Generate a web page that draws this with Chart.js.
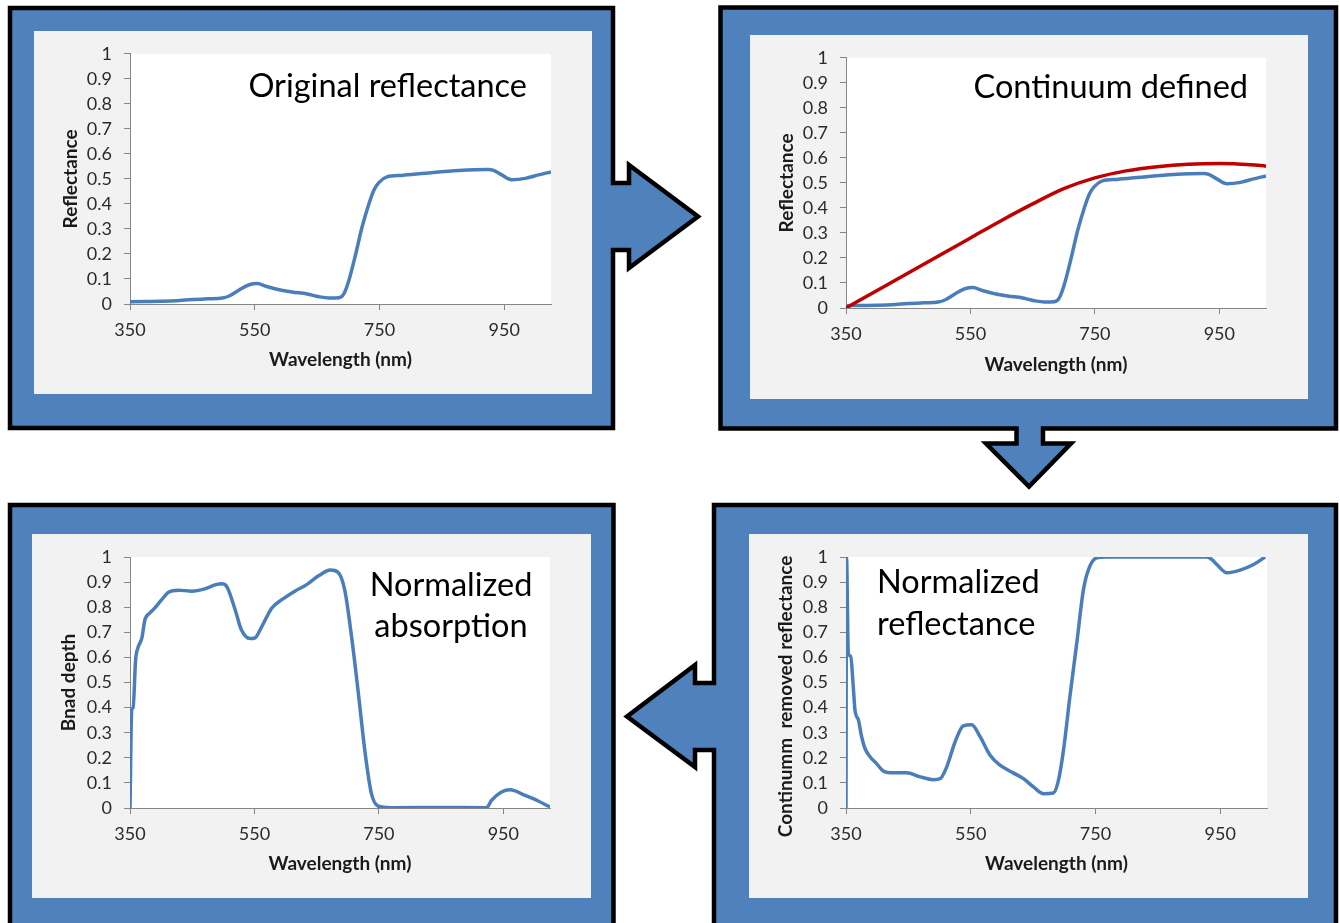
<!DOCTYPE html>
<html>
<head>
<meta charset="utf-8">
<title>Continuum removal steps</title>
<script src="https://cdn.jsdelivr.net/npm/chart.js@4.4.1/dist/chart.umd.min.js"></script>
<style>
  body { margin: 0; background: #fff; }
  #stage { position: relative; width: 1340px; height: 923px; overflow: hidden; }
  #stage canvas { position: absolute; }
</style>
</head>
<body>
<div id="stage">
  <canvas id="frames" width="1340" height="923" style="left:0;top:0"></canvas>
  <canvas id="origChart"></canvas>
  <canvas id="contChart"></canvas>
  <canvas id="depthChart"></canvas>
  <canvas id="normChart"></canvas>
</div>
<script>
// axis ticks
const xTicks = [350, 550, 750, 950];
const yTicks = [0, 0.1, 0.2, 0.3, 0.4, 0.5, 0.6, 0.7, 0.8, 0.9, 1];

// original reflectance
const origWl = [350, 375, 400, 424, 450, 475, 498, 509, 525, 541, 554, 568, 584, 610, 634, 653, 669, 685, 693, 701, 712, 722, 733, 741, 749, 762, 786, 824, 877, 925, 933, 946, 962, 984, 1005, 1025];
const origR = [0.009, 0.010, 0.011, 0.013, 0.018, 0.021, 0.024, 0.032, 0.056, 0.077, 0.082, 0.071, 0.060, 0.048, 0.040, 0.029, 0.024, 0.025, 0.041, 0.095, 0.201, 0.307, 0.400, 0.455, 0.485, 0.508, 0.514, 0.523, 0.534, 0.538, 0.534, 0.516, 0.497, 0.502, 0.516, 0.528];

// continuum hull (red line)
const contWl = [350, 400, 450, 500, 550, 600, 650, 700, 750, 800, 850, 900, 950, 1000, 1025];
const contR = [0, 0.07, 0.14, 0.21, 0.28, 0.35, 0.416, 0.477, 0.52, 0.548, 0.565, 0.575, 0.578, 0.573, 0.567];

// band depth
const depthWl = [350, 352.7, 355, 359, 363, 369, 374, 382, 390, 401, 412, 428, 449, 470, 488, 498, 506, 519, 529, 543, 551, 562, 578, 594, 615, 634, 653, 672, 684, 695, 706, 717, 728, 738, 749, 770, 850, 923, 931, 947, 961, 985, 1006, 1025];
const depthR = [0, 0.39, 0.40, 0.59, 0.64, 0.677, 0.75, 0.777, 0.797, 0.83, 0.86, 0.868, 0.864, 0.873, 0.89, 0.893, 0.88, 0.79, 0.71, 0.675, 0.678, 0.724, 0.797, 0.83, 0.864, 0.89, 0.925, 0.948, 0.94, 0.87, 0.684, 0.457, 0.217, 0.057, 0.007, 0.001, 0.002, 0.001, 0.03, 0.064, 0.073, 0.05, 0.028, 0.004];

// continuum removed reflectance
const normWl = [350, 350.8, 353.7, 357.5, 362, 364.4, 370, 375, 380.5, 388.5, 399, 410, 426, 447, 469, 490, 501, 511.5, 525, 538, 551.6, 565, 581, 597, 618, 634.5, 650.5, 666.6, 682.6, 690.6, 698.7, 709, 720, 730.7, 738.8, 752, 768, 850, 928.6, 936.6, 944.6, 960.7, 982, 1003.5, 1022];
const normR = [0, 1.0, 0.617, 0.604, 0.47, 0.39, 0.35, 0.284, 0.237, 0.204, 0.177, 0.147, 0.14, 0.14, 0.124, 0.113, 0.117, 0.164, 0.264, 0.327, 0.332, 0.284, 0.21, 0.171, 0.14, 0.117, 0.084, 0.057, 0.06, 0.11, 0.23, 0.444, 0.657, 0.87, 0.95, 0.997, 1.0, 1.0, 1.0, 0.99, 0.97, 0.937, 0.948, 0.97, 1.0];

const lineBlue = '#4a7ebb';
const lineRed = '#c00000';
const tickFont = { family: 'Lato', size: 18 };
const titleFont = { family: 'Lato', size: 19, weight: 'bold' };

// blue frames with the arrows joined on
function drawFrames() {
  const ctx = document.getElementById('frames').getContext('2d');
  const shapes = [
    [[10, 8], [613, 8], [613, 183], [629, 183], [629, 165], [698, 216.5], [629, 268], [629, 250], [613, 250], [613, 428], [10, 428]],
    [[720.5, 7.5], [1336, 7.5], [1336, 428.5], [1043, 428.5], [1043, 443.5], [1071, 443.5], [1029, 486.5], [986, 443.5], [1016.5, 443.5], [1016.5, 428.5], [720.5, 428.5]],
    [[10, 505], [613.5, 505], [613.5, 935], [10, 935]],
    [[714, 505], [1336, 505], [1336, 935], [714, 935], [714, 750], [695, 750], [695, 767], [627, 716.5], [695, 665], [695, 683], [714, 683]]
  ];
  ctx.fillStyle = '#4f81bd';
  ctx.strokeStyle = '#000';
  ctx.lineWidth = 4.5;
  ctx.lineJoin = 'miter';
  shapes.forEach(s => {
    ctx.beginPath();
    s.forEach(([x, y], i) => i ? ctx.lineTo(x, y) : ctx.moveTo(x, y));
    ctx.closePath();
    ctx.fill();
    ctx.stroke();
  });
}

function pts(wl, vals) {
  return wl.map((w, i) => ({ x: w, y: vals[i] }));
}

const panelBg = {
  id: 'panelBg',
  beforeDraw(chart) {
    const { ctx, chartArea: a, width, height } = chart;
    ctx.save();
    ctx.fillStyle = '#f2f2f2';
    ctx.fillRect(0, 0, width, height);
    ctx.fillStyle = '#fff';
    ctx.fillRect(a.left, a.top, a.right - a.left, a.bottom - a.top);
    ctx.restore();
  }
};

const note = {
  id: 'note',
  afterDraw(chart, args, opts) {
    const ctx = chart.ctx;
    ctx.save();
    ctx.font = opts.size + 'px Lato';
    ctx.fillStyle = '#000';
    ctx.textAlign = opts.align;
    ctx.textBaseline = 'alphabetic';
    opts.lines.forEach((t, i) => ctx.fillText(t, opts.x, opts.y + i * opts.gap));
    ctx.restore();
  }
};

function makeChart(id, box, datasets, yTitle, noteOpts) {
  const cv = document.getElementById(id);
  cv.width = box.w;
  cv.height = box.h;
  cv.style.left = box.x + 'px';
  cv.style.top = box.y + 'px';
  return new Chart(cv, {
    type: 'line',
    data: { datasets: datasets },
    options: {
      responsive: false,
      animation: false,
      devicePixelRatio: 1,
      layout: { padding: { left: 0, top: box.padTop, right: box.padRight, bottom: 0 } },
      elements: { point: { radius: 0 } },
      plugins: {
        legend: { display: false },
        tooltip: { enabled: false },
        note: noteOpts
      },
      scales: {
        x: {
          type: 'linear',
          min: 350,
          max: 1025,
          afterBuildTicks: s => { s.ticks = xTicks.map(v => ({ value: v })); },
          afterFit: s => { s.height = box.axisBottom; },
          border: { color: '#868686', width: 1 },
          grid: { drawOnChartArea: false, drawTicks: true, tickLength: 6, color: '#868686' },
          ticks: { font: tickFont, color: '#2b2b2b', padding: 9, maxRotation: 0, callback: v => String(v) },
          title: { display: true, text: 'Wavelength (nm)', font: titleFont, color: '#1a1a1a', padding: { top: 0, bottom: 23 } }
        },
        y: {
          type: 'linear',
          min: 0,
          max: 1,
          afterBuildTicks: s => { s.ticks = yTicks.map(v => ({ value: v })); },
          afterFit: s => { s.width = box.axisLeft; },
          border: { color: '#868686', width: 1 },
          grid: { drawOnChartArea: false, drawTicks: true, tickLength: 6, color: '#868686' },
          ticks: { font: tickFont, color: '#2b2b2b', padding: 12, callback: v => String(v) },
          title: { display: true, text: yTitle, font: titleFont, color: '#1a1a1a', padding: { top: 25, bottom: 0 } }
        }
      }
    },
    plugins: [panelBg, note]
  });
}

function blueSet(wl, vals) {
  return { data: pts(wl, vals), borderColor: lineBlue, borderWidth: 3.5, cubicInterpolationMode: 'monotone' };
}

drawFrames();

makeChart('origChart',
  { x: 34, y: 31, w: 558, h: 363, padTop: 21, padRight: 41, axisLeft: 96, axisBottom: 90 },
  [blueSet(origWl, origR)],
  'Reflectance',
  { lines: ['Original reflectance'], align: 'right', x: 493, y: 66, gap: 0, size: 32.5 });

makeChart('contChart',
  { x: 750, y: 35, w: 558, h: 364, padTop: 22, padRight: 42, axisLeft: 96, axisBottom: 91 },
  [
    { data: pts(contWl, contR), borderColor: lineRed, borderWidth: 3.5, cubicInterpolationMode: 'monotone' },
    blueSet(origWl, origR)
  ],
  'Reflectance',
  { lines: ['Continuum defined'], align: 'right', x: 498, y: 63, gap: 0, size: 32.5 });

makeChart('depthChart',
  { x: 32, y: 534, w: 559, h: 364, padTop: 23, padRight: 41, axisLeft: 98, axisBottom: 90 },
  [blueSet(depthWl, depthR)],
  'Bnad depth',
  { lines: ['Normalized', 'absorption'], align: 'center', x: 419, y: 62, gap: 41, size: 32.5 });

// the long title sits a little low in the original, trailing spaces push it down
makeChart('normChart',
  { x: 749, y: 534, w: 559, h: 364, padTop: 23, padRight: 41, axisLeft: 97, axisBottom: 90 },
  [blueSet(normWl, normR)],
  'Continumm  removed reflectance' + '\u00a0'.repeat(6),
  { lines: ['Normalized', 'reflectance'], align: 'left', x: 128, y: 59, gap: 42, size: 32.5 });
</script>
</body>
</html>
